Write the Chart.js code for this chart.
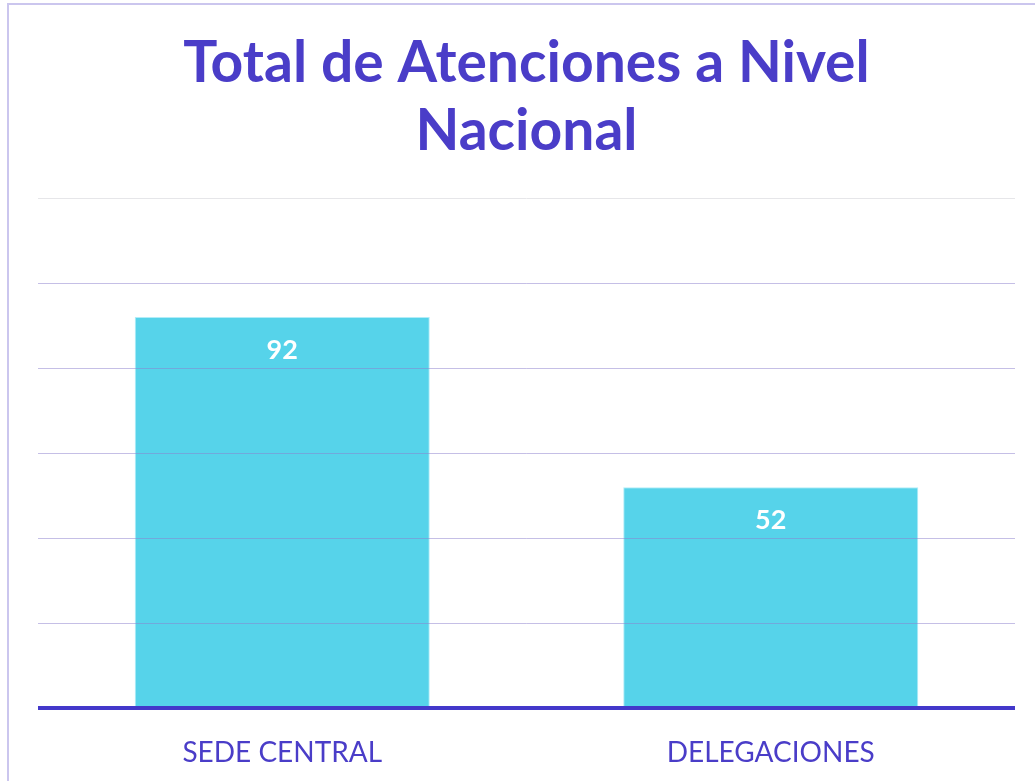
<!DOCTYPE html>
<html lang="es">
<head>
    <meta charset="UTF-8">
    <title>Total de Atenciones a Nivel Nacional</title>
    <script src="https://cdn.jsdelivr.net/npm/chart.js"></script>
    <style>
        body { margin: 0; background: #fff; overflow: hidden; }
        #card { position: absolute; left: 7px; top: 3px; width: 1100px; height: 900px; border: 2px solid #cbc6ee; }
        #wrap { position: absolute; left: 0; top: 0; width: 1035px; height: 798px; }
    </style>
</head>
<body>
<div id="card"></div>
<div id="wrap">
    <canvas id="myChart"></canvas>
</div>
<script>
    // datos
    var titulo = ['Total de Atenciones a Nivel', 'Nacional'];
    var categorias = ['SEDE CENTRAL', 'DELEGACIONES'];
    var atenciones = [92, 52];

    var morado = '#4a3dc8';

    // etiquetas blancas dentro de cada barra
    var etiquetas = {
        id: 'etiquetas',
        afterDatasetsDraw: function(chart) {
            var ctx = chart.ctx;
            var meta = chart.getDatasetMeta(0);
            ctx.save();
            ctx.fillStyle = '#ffffff';
            ctx.font = 'bold 27px Lato';
            ctx.textAlign = 'center';
            ctx.textBaseline = 'middle';
            meta.data.forEach(function(bar, i) {
                ctx.fillText(atenciones[i], bar.x, bar.y + 33);
            });
            ctx.restore();
        }
    };

    const ctx = document.getElementById('myChart');
    new Chart(ctx, {
        type: 'bar',
        data: {
            labels: categorias,
            datasets: [{
                data: atenciones,
                backgroundColor: 'rgba(38,198,228,0.78)',
                borderColor: 'rgba(170,235,247,0.9)',
                borderWidth: 1,
                categoryPercentage: 1,
                barPercentage: 0.604
            }]
        },
        options: {
            responsive: true,
            maintainAspectRatio: false,
            animation: false,
            layout: { padding: { left: 38, right: 20, top: 0, bottom: 0 } },
            plugins: {
                legend: { display: false },
                tooltip: { enabled: false },
                title: {
                    display: true,
                    text: titulo,
                    color: morado,
                    font: { family: 'Lato', size: 57, weight: 'bold', lineHeight: 1.193 },
                    padding: { top: 30, bottom: 32 }
                }
            },
            scales: {
                x: {
                    grid: { display: false, drawTicks: false },
                    border: { display: false },
                    ticks: {
                        color: morado,
                        padding: 28,
                        font: { family: 'Lato', size: 28 }
                    }
                },
                y: {
                    min: 0,
                    max: 120,
                    ticks: { display: false, stepSize: 20 },
                    border: { display: false },
                    grid: {
                        drawTicks: false,
                        z: 1,
                        lineWidth: function(c) {
                            return c.tick && c.tick.value === 0 ? 4 : 1;
                        },
                        color: function(c) {
                            if (!c.tick) return 'rgba(140,128,205,0.5)';
                            if (c.tick.value === 0) return '#4338ca';
                            if (c.tick.value === 120) return '#e6e6e9';
                            return 'rgba(140,128,205,0.5)';
                        }
                    }
                }
            }
        },
        plugins: [etiquetas]
    });
</script>
</body>
</html>
